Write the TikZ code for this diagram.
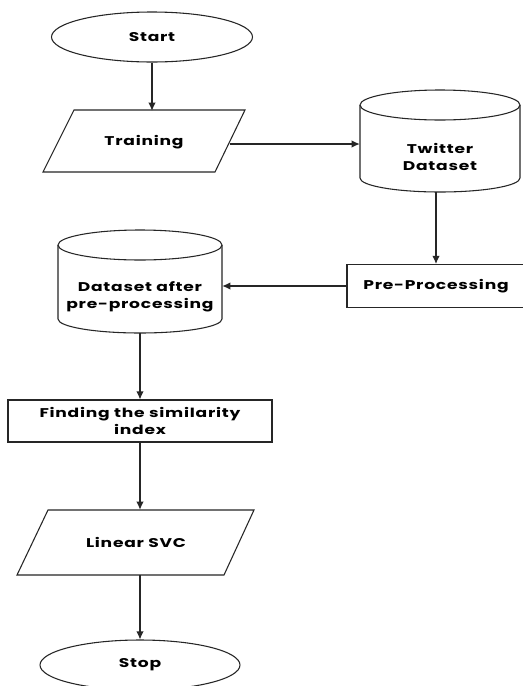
\documentclass[tikz,border=0pt]{standalone}
\usepackage{fontspec}
\setmainfont{Poppins}[FakeStretch=1.35,LetterSpace=6]
\usetikzlibrary{shapes.geometric,arrows.meta}
\begin{document}
\begin{tikzpicture}[x=0.75pt,y=0.75pt,
  every node/.style={font=\bfseries\fontsize{9.5}{12.75}\selectfont, align=center, inner sep=0pt},
  line/.style={draw=black!85, line width=0.8pt},
  arr/.style={line, -{Latex[length=6pt,width=5.5pt]}},
  term/.style={ellipse, line, minimum width=201*0.75pt, minimum height=50*0.75pt},
  procbox/.style={rectangle, line}]
\useasboundingbox (0,0) rectangle (523,-686);
\fill[white] (0,0) rectangle (523,-686);

% Start
\node[term] (start) at (152,-37) {Start};

% Training (parallelogram)
\draw[line] (74,-110) -- (245,-110) -- (215,-172) -- (43,-172) -- cycle;
\node[minimum width=172*0.75pt, minimum height=62*0.75pt] (train) at (144,-142) {Training};

% Twitter Dataset (cylinder)
\draw[line] (360,-105) -- (360,-178) arc[start angle=180,end angle=360,x radius=80,y radius=14]
  -- (520,-105);
\draw[line] (440,-105) ellipse[x radius=80,y radius=15];
\node[minimum width=160*0.75pt, minimum height=102*0.75pt] (tw) at (440,-141) {};
\node (twtext) at (440,-157) {Twitter\\Dataset};

% Pre-Processing
\node[procbox, minimum width=178*0.75pt, minimum height=43*0.75pt] (pre) at (436,-286) {Pre-Processing};

% Dataset after pre-processing (cylinder)
\draw[line] (58,-245) -- (58,-319) arc[start angle=180,end angle=360,x radius=82,y radius=14]
  -- (222,-245);
\draw[line] (140,-245) ellipse[x radius=82,y radius=15];
\node[minimum width=164*0.75pt, minimum height=103*0.75pt] (ds) at (140,-281.5) {};
\node (dstext) at (140,-297) {Dataset after\\pre-processing};

% Finding the similarity index
\node[procbox, minimum width=264*0.75pt, minimum height=42*0.75pt] (find) at (140,-421) {Finding the similarity\\index};

% Linear SVC (parallelogram)
\draw[line] (48,-510) -- (254,-510) -- (224,-575) -- (17,-575) -- cycle;
\node[minimum width=207*0.75pt, minimum height=65*0.75pt] (svc) at (136,-542.5) {Linear SVC};

% Stop
\node[term, minimum width=200*0.75pt] (stop) at (140,-665) {Stop};

% Connectors
\draw[arr] (start.south) -- (start.south |- train.north);
\draw[arr] (train.east |- 0,-144) -- (tw.west |- 0,-144);
\draw[arr] (pre.north |- tw.south) -- (pre.north);
\draw[arr] (pre.west) -- (pre.west -| ds.east);
\draw[arr] (ds.south) -- (find.north);
\draw[arr] (find.south) -- (find.south |- svc.north);
\draw[arr] (find.south |- svc.south) -- (stop.north);
\end{tikzpicture}
\end{document}
